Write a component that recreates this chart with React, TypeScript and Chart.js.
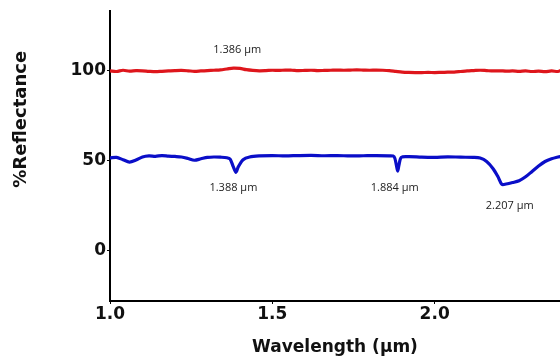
import React, { useEffect, useRef } from "react";
import { Chart, registerables } from "chart.js";

Chart.register(...registerables);

const redWavelength = [
  1.0, 1.02, 1.04, 1.06, 1.08, 1.1, 1.12, 1.14, 1.16, 1.18, 1.2, 1.22, 1.24, 1.26, 1.28, 1.3,
  1.32, 1.34, 1.36, 1.38, 1.4, 1.42, 1.44, 1.46, 1.48, 1.5, 1.52, 1.54, 1.56, 1.58, 1.6, 1.62,
  1.64, 1.66, 1.68, 1.7, 1.72, 1.74, 1.76, 1.78, 1.8, 1.82, 1.84, 1.86, 1.88, 1.9, 1.92, 1.94,
  1.96, 1.98, 2.0, 2.02, 2.04, 2.06, 2.08, 2.1, 2.12, 2.14, 2.16, 2.18, 2.2, 2.22, 2.24, 2.26,
  2.28, 2.3, 2.32, 2.34, 2.36, 2.38, 2.39,
];
const redReflectance = [
  99.8, 99.5, 100.2, 99.7, 100.0, 99.9, 99.6, 99.4, 99.6, 99.8, 100.0, 100.1, 99.9, 99.6, 99.8, 100.0,
  100.2, 100.4, 100.9, 101.4, 101.2, 100.5, 100.1, 99.9, 100.0, 100.2, 100.1, 100.3, 100.2, 100.0, 100.1, 100.2,
  100.0, 100.1, 100.2, 100.3, 100.2, 100.3, 100.4, 100.3, 100.2, 100.3, 100.2, 100.0, 99.6, 99.2, 99.0, 98.9,
  98.9, 99.0, 98.9, 99.0, 99.1, 99.2, 99.5, 99.8, 100.0, 100.2, 100.0, 99.8, 99.9, 99.7, 99.8, 99.6,
  99.8, 99.5, 99.7, 99.4, 99.8, 99.5, 100.2,
];

const blueWavelength = [
  1.0, 1.02, 1.04, 1.06, 1.08, 1.1, 1.12, 1.14, 1.16, 1.18, 1.2, 1.22, 1.24, 1.26, 1.28, 1.3,
  1.32, 1.34, 1.36, 1.37, 1.38, 1.388, 1.395, 1.41, 1.43, 1.46, 1.5, 1.54, 1.58, 1.62, 1.66, 1.7,
  1.74, 1.78, 1.82, 1.86, 1.875, 1.882, 1.886, 1.89, 1.897, 1.92, 1.96, 2.0, 2.04, 2.08, 2.12, 2.14,
  2.16, 2.18, 2.195, 2.207, 2.22, 2.24, 2.26, 2.28, 2.3, 2.32, 2.34, 2.36, 2.38, 2.39,
];
const blueReflectance = [
  51.5, 51.8, 50.5, 49.2, 50.3, 52.0, 52.6, 52.4, 52.8, 52.5, 52.3, 52.0, 51.2, 50.2, 51.0, 51.8,
  52.0, 51.9, 51.6, 50.8, 46.5, 43.5, 46.5, 50.5, 52.0, 52.6, 52.8, 52.6, 52.8, 52.9, 52.7, 52.8,
  52.6, 52.7, 52.8, 52.6, 52.2, 47.5, 44.2, 47.5, 51.8, 52.2, 51.9, 51.8, 52.1, 51.9, 51.8, 51.4,
  49.5, 45.5, 41.0, 36.8, 37.0, 37.8, 38.8, 41.0, 44.0, 47.0, 49.5, 51.0, 52.0, 52.4,
];

const xTicks = [1.0, 1.5, 2.0];
const yTicks = [0, 50, 100];

const labelTexts = ["1.386 µm", "1.388 µm", "1.884 µm", "2.207 µm"];
const labelX = [1.392, 1.38, 1.877, 2.231];
const labelY = [111.6, 35, 35, 25];

const annotationPlugin = {
  id: "annotations",
  afterDatasetsDraw(chart: any) {
    const { ctx, scales, chartArea } = chart;
    ctx.save();
    ctx.font = '11px "Open Sans"';
    ctx.fillStyle = "#222";
    ctx.textAlign = "center";
    ctx.textBaseline = "middle";
    labelTexts.forEach((t, i) => {
      ctx.fillText(t, scales.x.getPixelForValue(labelX[i]), scales.y.getPixelForValue(labelY[i]));
    });
    ctx.restore();
    // y-axis title
    ctx.save();
    ctx.font = 'bold 18px "DejaVu Sans"';
    ctx.fillStyle = "#111";
    ctx.textAlign = "center";
    ctx.textBaseline = "middle";
    const cy = chartArea.top + (chartArea.bottom - chartArea.top) * 0.373;
    ctx.translate(21, cy);
    ctx.rotate(-Math.PI / 2);
    ctx.fillText("%Reflectance", 0, 0);
    ctx.restore();
  },
};

export default function App() {
  const ref = useRef<HTMLCanvasElement | null>(null);
  useEffect(() => {
    document.body.style.margin = "0";
    if (!ref.current) return;
    const chart = new Chart(ref.current, {
      type: "line",
      data: {
        datasets: [
          {
            label: "red",
            data: redWavelength.map((x, i) => ({ x, y: redReflectance[i] })),
            borderColor: "rgb(222,22,28)",
            borderWidth: 3.2,
            pointRadius: 0,
            tension: 0.3,
          },
          {
            label: "blue",
            data: blueWavelength.map((x, i) => ({ x, y: blueReflectance[i] })),
            borderColor: "rgb(10,14,200)",
            borderWidth: 3.2,
            pointRadius: 0,
            tension: 0.3,
          },
        ],
      },
      options: {
        responsive: false,
        animation: false,
        layout: { padding: { top: 10, left: 0, right: 0, bottom: 0 } },
        plugins: { legend: { display: false }, tooltip: { enabled: false } },
        scales: {
          x: {
            type: "linear",
            min: 1.0,
            max: 2.386,
            afterBuildTicks: (s: any) => {
              s.ticks = xTicks.map((v) => ({ value: v }));
            },
            afterFit: (s: any) => {
              s.height = 59;
            },
            ticks: {
              font: { family: "DejaVu Sans", size: 17, weight: "bold" },
              color: "#111",
              padding: 0,
              maxRotation: 0,
              callback: (v: any) => Number(v).toFixed(1),
            },
            grid: { display: true, drawOnChartArea: false, drawTicks: true, tickLength: 3, color: "#000" },
            border: { display: true, color: "#000", width: 2 },
            title: {
              display: true,
              text: "Wavelength (µm)",
              font: { family: "DejaVu Sans", size: 17, weight: "bold" },
              color: "#111",
              padding: { top: 0, bottom: 2 },
            },
          },
          y: {
            type: "linear",
            min: -28,
            max: 133,
            afterBuildTicks: (s: any) => {
              s.ticks = yTicks.map((v) => ({ value: v }));
            },
            afterFit: (s: any) => {
              s.width = 110;
            },
            ticks: {
              font: { family: "DejaVu Sans", size: 17, weight: "bold" },
              color: "#111",
              padding: 1,
            },
            grid: { display: true, drawOnChartArea: false, drawTicks: true, tickLength: 3, color: "#000" },
            border: { display: true, color: "#000", width: 2 },
          },
        },
      },
      plugins: [annotationPlugin],
    });
    return () => chart.destroy();
  }, []);
  return (
    <div style={{ width: 560, height: 360 }}>
      <canvas ref={ref} width={560} height={360} />
    </div>
  );
}
